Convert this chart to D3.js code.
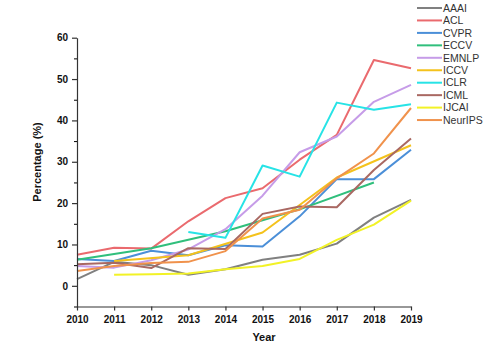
<!DOCTYPE html>
<html><head><meta charset="utf-8">
<script src="https://cdn.jsdelivr.net/npm/d3@7"></script>
<style>body{margin:0;background:#fff}svg{display:block}</style>
</head><body>
<svg id="c" width="504" height="345"></svg>
<script>
const years = [2010, 2011, 2012, 2013, 2014, 2015, 2016, 2017, 2018, 2019];
const yTicks = [0, 10, 20, 30, 40, 50, 60];
const seriesNames = ["AAAI", "ACL", "CVPR", "ECCV", "EMNLP", "ICCV", "ICLR", "ICML", "IJCAI", "NeurIPS"];
const AAAI    = [1.6, 5.8, 5.0, 2.7, 4.0, 6.3, 7.5, 10.2, 16.5, 20.8];
const ACL     = [7.5, 9.2, 9.0, 15.6, 21.2, 23.6, 30.5, 36.5, 54.6, 52.6];
const CVPR    = [6.5, 6.0, 8.5, 7.4, 9.8, 9.5, 16.8, 25.8, 25.8, 32.9];
const ECCV    = [6.3, null, 9.1, null, 13.2, null, 18.5, null, 25.0, null];
const EMNLP   = [4.8, 4.4, 6.2, 8.8, 13.7, 21.8, 32.3, 36.1, 44.5, 48.6];
const ICCV    = [null, 6.0, null, 7.4, null, 12.9, null, 26.2, null, 34.0];
const ICLR    = [null, null, null, 13.0, 11.6, 29.1, 26.4, 44.3, 42.6, 43.9];
const ICML    = [5.2, 5.6, 4.3, 9.1, 8.9, 17.4, 19.2, 19.0, 28.0, 35.6];
const IJCAI   = [null, 2.7, 2.8, 3.0, 4.0, 4.8, 6.5, 11.1, 14.8, 20.6];
const NeurIPS = [3.6, 4.8, 5.5, 5.8, 8.4, 16.3, 18.4, 26.0, 32.0, 43.0];
const seriesValues = [AAAI, ACL, CVPR, ECCV, EMNLP, ICCV, ICLR, ICML, IJCAI, NeurIPS];
const colors = ["#808080", "#ea6a6e", "#4b8fd8", "#30bf7c", "#c69ce8", "#f4c21c", "#27e3e6", "#a96862", "#f2f226", "#f0924c"];

const svg = d3.select("#c");
const x = d3.scaleLinear().domain([2010, 2019]).range([77, 411]);
const y = d3.scaleLinear().domain([-5, 60]).range([306.5, 37.7]);
const font = "'Liberation Sans', Arial, sans-serif";

// lines
const line = d3.line().defined(d => d.v != null).x(d => x(d.year)).y(d => y(d.v));
seriesNames.forEach((name, i) => {
  const pts = years.map((yr, j) => ({year: yr, v: seriesValues[i][j]})).filter(d => d.v != null);
  svg.append("path").datum(pts)
    .attr("d", line)
    .attr("fill", "none")
    .attr("stroke", colors[i])
    .attr("stroke-width", 2)
    .attr("stroke-linejoin", "round");
});

// y axis
const yAxis = svg.append("g").attr("transform", "translate(77,0)")
  .call(d3.axisLeft(y).tickValues(yTicks).tickFormat(d3.format("d")).tickSize(5).tickSizeOuter(0));
svg.append("g").attr("transform", "translate(77,0)")
  .call(d3.axisLeft(y).tickValues([-5, 5, 15, 25, 35, 45, 55]).tickFormat("").tickSize(3).tickSizeOuter(0))
  .select(".domain").remove();
// x axis
const xAxis = svg.append("g").attr("transform", "translate(0,306.5)")
  .call(d3.axisBottom(x).tickValues(years).tickFormat(d3.format("d")).tickSize(4).tickSizeOuter(0));

[yAxis, xAxis].forEach(g => {
  g.selectAll("path,line").attr("stroke", "#333").attr("stroke-width", 1.2);
  g.selectAll("text").attr("font-family", font).attr("font-weight", "bold").attr("font-size", 10).attr("fill", "#111");
});
yAxis.selectAll("text").attr("x", -9);
xAxis.selectAll("text").attr("y", 9);

svg.append("text").attr("x", 264).attr("y", 341).attr("text-anchor", "middle")
  .attr("font-family", font).attr("font-weight", "bold").attr("font-size", 11).attr("fill", "#111").text("Year");
svg.append("text").attr("transform", "translate(41,162) rotate(-90)").attr("text-anchor", "middle")
  .attr("font-family", font).attr("font-weight", "bold").attr("font-size", 11).attr("fill", "#111").text("Percentage (%)");

// legend
const leg = svg.append("g");
seriesNames.forEach((name, i) => {
  const ly = 8 + i * 12.45;
  leg.append("line").attr("x1", 417).attr("x2", 442).attr("y1", ly).attr("y2", ly)
    .attr("stroke", colors[i]).attr("stroke-width", 2);
  leg.append("text").attr("x", 443).attr("y", ly).attr("dy", "0.36em")
    .attr("font-family", font).attr("font-size", 10.5).attr("fill", "#333").text(name);
});
</script>
</body></html>
